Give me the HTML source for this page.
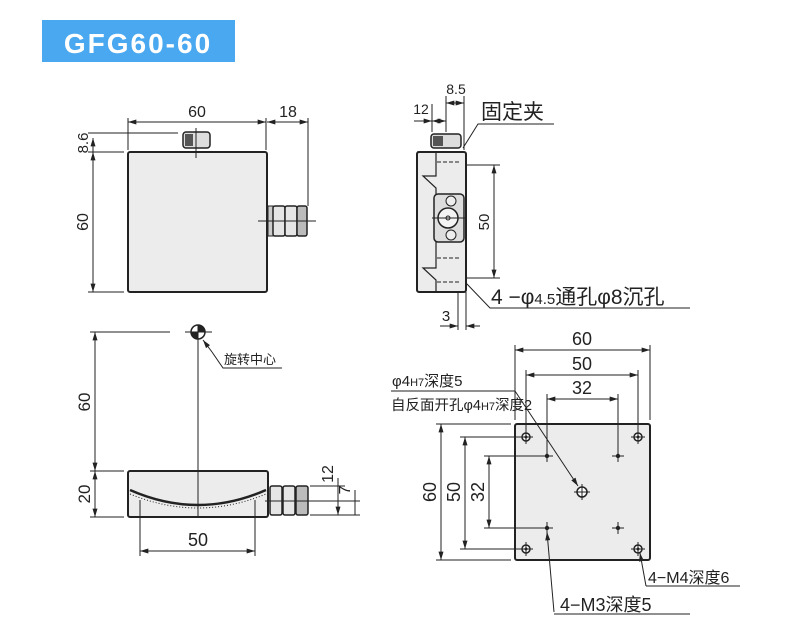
<!DOCTYPE html>
<html><head><meta charset="utf-8"><style>
html,body{margin:0;padding:0;background:#fff;}
svg{display:block;}
text{font-family:"Liberation Sans","Noto Sans CJK SC",sans-serif;fill:#222;}
</style></head><body>
<svg width="790" height="632" viewBox="0 0 790 632" xmlns="http://www.w3.org/2000/svg">
<defs>
<marker id="a" viewBox="0 0 10 6" refX="10" refY="3" markerWidth="9" markerHeight="5" orient="auto-start-reverse" markerUnits="userSpaceOnUse"><path d="M0,0L10,3L0,6z" fill="#222"/></marker>
</defs>
<rect x="42" y="20" width="193" height="42" fill="#4aa8f0"/>
<text x="138" y="53" text-anchor="middle" font-size="28" font-weight="bold" style="fill:#fff;letter-spacing:2px">GFG60-60</text>

<g stroke="#222" fill="none" stroke-width="1">
<rect x="128" y="152" width="139" height="140" rx="2" fill="#ececec" stroke-width="2"/>
<rect x="183" y="132" width="27" height="16" rx="3" fill="#ddd" stroke-width="1.5"/>
<rect x="185" y="134" width="8" height="12" fill="#555" stroke="none"/>
<line x1="196" y1="128" x2="196" y2="158"/>
<rect x="268" y="206" width="5" height="30" fill="#ccc"/>
<rect x="273" y="206" width="12" height="30" rx="2" fill="#e5e5e5" stroke-width="1.5"/>
<rect x="285" y="206" width="12" height="30" rx="2" fill="#e5e5e5" stroke-width="1.5"/>
<rect x="297" y="206" width="10" height="30" rx="2" fill="#bbb" stroke-width="1.5"/>
<line x1="258" y1="221" x2="316" y2="221"/>
<line x1="128" y1="118" x2="128" y2="150"/><line x1="266" y1="118" x2="266" y2="150"/><line x1="308" y1="118" x2="308" y2="206"/>
<line x1="128" y1="122" x2="266" y2="122" marker-start="url(#a)" marker-end="url(#a)"/>
<line x1="267" y1="122" x2="308" y2="122" marker-start="url(#a)" marker-end="url(#a)"/>
<line x1="88" y1="133" x2="178" y2="133"/><line x1="88" y1="152" x2="124" y2="152"/><line x1="88" y1="292" x2="124" y2="292"/>
<line x1="93" y1="138" x2="93" y2="152" marker-start="url(#a)"/>
<line x1="93" y1="152" x2="93" y2="292" marker-start="url(#a)" marker-end="url(#a)"/>

<rect x="417" y="152" width="49" height="140" rx="2" fill="#ececec" stroke-width="2"/>
<path d="M417,152 L436,152 L436,176 L423,176 L436,188 L436,268 L423,268 L436,280 L436,292" fill="none" stroke-width="1.2"/>
<path d="M437,162 L460,162 M437,258 L460,258 M437,282 L460,282" stroke-dasharray="4,2"/>
<rect x="434" y="194" width="30" height="48" rx="4" fill="#ddd" stroke-width="1.5"/>
<circle cx="451" cy="201" r="5" fill="#eee"/><circle cx="451" cy="235" r="5" fill="#eee"/>
<circle cx="448" cy="218" r="10" fill="#f4f4f4" stroke-width="1.5"/><circle cx="448" cy="218" r="2"/>
<line x1="432" y1="218" x2="466" y2="218"/>
<rect x="431" y="134" width="30" height="14" rx="3" fill="#ddd" stroke-width="1.5"/>
<rect x="433" y="136" width="10" height="10" fill="#555" stroke="none"/>
<line x1="466" y1="165" x2="500" y2="165"/><line x1="466" y1="278" x2="500" y2="278"/>
<line x1="494" y1="165" x2="494" y2="278" marker-start="url(#a)" marker-end="url(#a)"/>
<line x1="432" y1="104" x2="432" y2="132"/><line x1="446" y1="96" x2="446" y2="132"/><line x1="464" y1="96" x2="464" y2="150"/>
<line x1="414" y1="121" x2="432" y2="121" marker-end="url(#a)"/>
<line x1="432" y1="121" x2="446" y2="121" marker-start="url(#a)" marker-end="url(#a)"/>
<line x1="446" y1="103" x2="464" y2="103" marker-start="url(#a)" marker-end="url(#a)"/>
<path d="M463,148 L478,124 L554,124"/>
<path d="M466,283 L490,308 L690,308"/>
<line x1="458" y1="292" x2="458" y2="330"/><line x1="466" y1="292" x2="466" y2="330"/>
<line x1="440" y1="326" x2="458" y2="326" marker-end="url(#a)"/>
<line x1="480" y1="326" x2="466" y2="326" marker-end="url(#a)"/>

<rect x="128" y="471" width="140" height="46" rx="2" fill="#ececec" stroke-width="2"/>
<path d="M130,490 Q198,520 266,490" stroke-width="2.5"/>
<path d="M130,494 Q198,522 266,494" stroke-dasharray="1,2"/>
<line x1="198" y1="332" x2="198" y2="517"/>
<line x1="185" y1="332" x2="212" y2="332"/>
<circle cx="198" cy="332" r="7" fill="#fff" stroke-width="1.5"/>
<path d="M198,325 A7,7 0 0 1 205,332 L198,332 Z" fill="#222"/>
<path d="M198,339 A7,7 0 0 1 191,332 L198,332 Z" fill="#222"/>
<line x1="212" y1="352" x2="203" y2="340" marker-end="url(#a)"/>
<path d="M212,352 L223,368 L282,368"/>
<line x1="90" y1="332" x2="170" y2="332"/><line x1="90" y1="471" x2="124" y2="471"/><line x1="90" y1="517" x2="124" y2="517"/>
<line x1="95" y1="332" x2="95" y2="471" marker-start="url(#a)" marker-end="url(#a)"/>
<line x1="95" y1="471" x2="95" y2="517" marker-start="url(#a)" marker-end="url(#a)"/>
<line x1="140" y1="500" x2="140" y2="556"/><line x1="255" y1="500" x2="255" y2="556"/>
<line x1="140" y1="551" x2="255" y2="551" marker-start="url(#a)" marker-end="url(#a)"/>
<rect x="270" y="486" width="12" height="29" rx="2" fill="#e5e5e5" stroke-width="1.5"/>
<rect x="283" y="486" width="12" height="29" rx="2" fill="#e5e5e5" stroke-width="1.5"/>
<rect x="296" y="486" width="12" height="29" rx="2" fill="#bbb" stroke-width="1.5"/>
<line x1="265" y1="501" x2="360" y2="501"/>
<line x1="310" y1="486" x2="345" y2="486"/><line x1="310" y1="515" x2="360" y2="515"/>
<line x1="338" y1="478" x2="338" y2="515" marker-end="url(#a)"/>
<line x1="355" y1="490" x2="355" y2="515"/>

<rect x="515" y="424" width="135" height="136" rx="2" fill="#ececec" stroke-width="2"/>
<g fill="#fff" stroke-width="1.5">
<circle cx="526" cy="437" r="4"/><circle cx="638" cy="437" r="4"/><circle cx="526" cy="549" r="4"/><circle cx="638" cy="549" r="4"/>
<circle cx="582" cy="492" r="5"/>
</g>
<g fill="#222" stroke="none">
<circle cx="547" cy="456" r="2.2"/><circle cx="618" cy="456" r="2.2"/><circle cx="547" cy="528" r="2.2"/><circle cx="618" cy="528" r="2.2"/>
<circle cx="526" cy="437" r="1.5"/><circle cx="638" cy="437" r="1.5"/><circle cx="526" cy="549" r="1.5"/><circle cx="638" cy="549" r="1.5"/>
</g>
<path d="M519,437h14M526,430v14M631,437h14M638,430v14M519,549h14M526,542v14M631,549h14M638,542v14M574,492h16M582,484v16M541,456h12M547,450v12M612,456h12M618,450v12M541,528h12M547,522v12M612,528h12M618,522v12"/>
<line x1="515" y1="345" x2="515" y2="420"/><line x1="650" y1="345" x2="650" y2="420"/>
<line x1="526" y1="370" x2="526" y2="432"/><line x1="638" y1="370" x2="638" y2="432"/>
<line x1="547" y1="394" x2="547" y2="452"/><line x1="618" y1="394" x2="618" y2="452"/>
<line x1="515" y1="350" x2="650" y2="350" marker-start="url(#a)" marker-end="url(#a)"/>
<line x1="526" y1="375" x2="638" y2="375" marker-start="url(#a)" marker-end="url(#a)"/>
<line x1="547" y1="399" x2="618" y2="399" marker-start="url(#a)" marker-end="url(#a)"/>
<line x1="436" y1="424" x2="511" y2="424"/><line x1="436" y1="560" x2="511" y2="560"/>
<line x1="460" y1="437" x2="520" y2="437"/><line x1="460" y1="549" x2="520" y2="549"/>
<line x1="484" y1="456" x2="541" y2="456"/><line x1="484" y1="528" x2="541" y2="528"/>
<line x1="441" y1="424" x2="441" y2="560" marker-start="url(#a)" marker-end="url(#a)"/>
<line x1="465" y1="437" x2="465" y2="549" marker-start="url(#a)" marker-end="url(#a)"/>
<line x1="489" y1="456" x2="489" y2="528" marker-start="url(#a)" marker-end="url(#a)"/>
<path d="M391,391 L515,391"/>
<line x1="515" y1="391" x2="578" y2="486" marker-end="url(#a)"/>
<line x1="554" y1="612" x2="547" y2="532" marker-end="url(#a)"/>
<line x1="554" y1="614" x2="690" y2="614"/>
<line x1="646" y1="586" x2="640" y2="553" marker-end="url(#a)"/>
<line x1="646" y1="586" x2="740" y2="586"/>
</g>

<g font-size="16">
<text x="197" y="117" text-anchor="middle">60</text>
<text x="288" y="117" text-anchor="middle">18</text>
<text transform="translate(88,143) rotate(-90)" text-anchor="middle" font-size="15">8.6</text>
<text transform="translate(88,222) rotate(-90)" text-anchor="middle">60</text>
<text x="456" y="94" text-anchor="middle" font-size="14">8.5</text>
<text x="421" y="114" text-anchor="middle" font-size="14">12</text>
<text x="481" y="119" font-size="21">固定夹</text>
<text transform="translate(489,222) rotate(-90)" text-anchor="middle" font-size="15">50</text>
<text x="491" y="304" font-size="21">4 −φ<tspan font-size="15">4.5</tspan>通孔φ8沉孔</text>
<text x="446" y="321" text-anchor="middle" font-size="15">3</text>
<text x="224" y="364" font-size="13">旋转中心</text>
<text transform="translate(90,402) rotate(-90)" text-anchor="middle" font-size="17">60</text>
<text transform="translate(90,494) rotate(-90)" text-anchor="middle" font-size="17">20</text>
<text x="198" y="546" text-anchor="middle" font-size="18">50</text>
<text transform="translate(333,474) rotate(-90)" text-anchor="middle" font-size="16">12</text>
<text transform="translate(350,490) rotate(-90)" text-anchor="middle" font-size="16">7</text>
<text x="582" y="345" text-anchor="middle" font-size="18">60</text>
<text x="582" y="370" text-anchor="middle" font-size="18">50</text>
<text x="582" y="394" text-anchor="middle" font-size="18">32</text>
<text x="392" y="386" font-size="15">φ4<tspan font-size="11">H7</tspan>深度5</text>
<text x="391" y="410" font-size="14.5">自反面开孔φ4<tspan font-size="11">H7</tspan>深度2</text>
<text transform="translate(436,492) rotate(-90)" text-anchor="middle" font-size="18">60</text>
<text transform="translate(460,492) rotate(-90)" text-anchor="middle" font-size="18">50</text>
<text transform="translate(484,492) rotate(-90)" text-anchor="middle" font-size="18">32</text>
<text x="648" y="583" font-size="16">4−M4深度6</text>
<text x="560" y="611" font-size="18">4−M3深度5</text>
</g>
</svg>
</body></html>
